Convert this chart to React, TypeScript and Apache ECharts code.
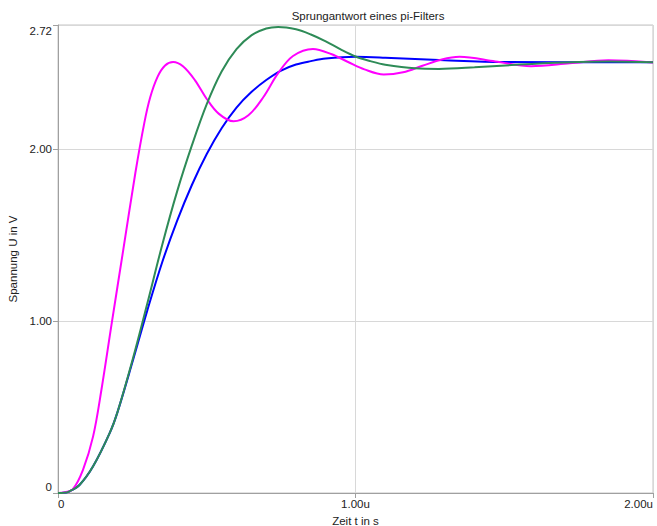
import React, { useEffect, useRef } from "react";
import * as echarts from "echarts";

const titleText = "Sprungantwort eines pi-Filters";
const xName = "Zeit t in s";
const yName = "Spannung U in V";

const yTickValues = [0, 1, 2, 2.72];
const xTickValues = [0, 1, 2];

// time in µs, voltage in V
const magentaT = [0, 0.02, 0.05, 0.084, 0.118, 0.146, 0.18, 0.22, 0.26, 0.29, 0.31, 0.335, 0.36, 0.387, 0.42, 0.46, 0.5, 0.54, 0.59, 0.64, 0.69, 0.74, 0.79, 0.857, 0.92, 0.975, 1.03, 1.095, 1.16, 1.225, 1.29, 1.35, 1.47, 1.59, 1.72, 1.85, 2.0];
const magentaU = [0, 0.003, 0.023, 0.135, 0.329, 0.6, 0.98, 1.42, 1.86, 2.15, 2.3, 2.42, 2.485, 2.505, 2.48, 2.4, 2.29, 2.205, 2.16, 2.195, 2.3, 2.44, 2.54, 2.581, 2.55, 2.505, 2.462, 2.432, 2.445, 2.483, 2.52, 2.535, 2.508, 2.48, 2.497, 2.515, 2.502];

const greenT = [0, 0.02, 0.039, 0.073, 0.118, 0.174, 0.2, 0.25, 0.3, 0.35, 0.4, 0.45, 0.5, 0.55, 0.6, 0.65, 0.7, 0.74, 0.8, 0.85, 0.9, 0.95, 1.0, 1.05, 1.1, 1.2, 1.28, 1.4, 1.55, 1.7, 1.85, 2.0];
const greenU = [0, 0.001, 0.01, 0.048, 0.155, 0.349, 0.47, 0.77, 1.1, 1.44, 1.75, 2.02, 2.26, 2.45, 2.58, 2.66, 2.7, 2.709, 2.695, 2.665, 2.625, 2.578, 2.537, 2.51, 2.489, 2.468, 2.465, 2.474, 2.49, 2.502, 2.508, 2.504];

const blueT = [0, 0.02, 0.039, 0.073, 0.118, 0.174, 0.2, 0.25, 0.3, 0.35, 0.4, 0.45, 0.5, 0.55, 0.6, 0.65, 0.7, 0.75, 0.8, 0.85, 0.9, 1.0, 1.1, 1.3, 1.5, 2.0];
const blueU = [0, 0.001, 0.01, 0.048, 0.155, 0.349, 0.47, 0.76, 1.06, 1.34, 1.58, 1.79, 1.97, 2.12, 2.24, 2.33, 2.4, 2.455, 2.49, 2.51, 2.525, 2.535, 2.53, 2.515, 2.505, 2.503];

const pairs = (t: number[], u: number[]) => t.map((v, i) => [v, u[i]]);

const FONT = "'Liberation Sans', Arial, sans-serif";

export default function App() {
  const ref = useRef<HTMLDivElement>(null);
  useEffect(() => {
    if (!ref.current) return;
    const chart = echarts.init(ref.current, undefined, { renderer: "svg" });
    const lbl = { fontSize: 11.5, color: "#222", fontFamily: FONT };
    chart.setOption({
      animation: false,
      backgroundColor: "#fff",
      title: {
        text: titleText,
        left: 363,
        top: 5,
        textAlign: "center",
        textStyle: { fontSize: 11.5, fontWeight: "normal", color: "#222", fontFamily: FONT },
      },
      grid: {
        left: 58,
        right: 4,
        top: 25,
        bottom: 33,
        containLabel: false,
        outerBoundsMode: "none",
        show: true,
        borderColor: "#c4c4c4",
        borderWidth: 1,
      },
      xAxis: {
        type: "value",
        min: 0,
        max: 2,
        interval: 1,
        name: xName,
        nameLocation: "middle",
        nameGap: 17,
        nameTextStyle: lbl,
        axisLine: { show: true, lineStyle: { color: "#a0a0a0", width: 1 } },
        axisTick: { show: true, inside: false, length: 5, lineStyle: { color: "#a0a0a0" } },
        splitLine: { show: true, lineStyle: { color: "#d8d8d8", width: 1 } },
        axisLabel: {
          ...lbl,
          margin: 5,
          customValues: xTickValues,
          alignMinLabel: "left",
          alignMaxLabel: "right",
          formatter: (v: number) => (v === 0 ? "0" : v.toFixed(2) + "u"),
        },
      },
      yAxis: {
        type: "value",
        min: 0,
        max: 2.72,
        interval: 1,
        name: yName,
        nameLocation: "middle",
        nameGap: 36,
        nameRotate: 90,
        nameTextStyle: lbl,
        axisLine: { show: true, lineStyle: { color: "#a0a0a0", width: 1 } },
        axisTick: { show: true, inside: false, length: 5, customValues: yTickValues, lineStyle: { color: "#a0a0a0" } },
        splitLine: { show: true, lineStyle: { color: "#d8d8d8", width: 1 } },
        axisLabel: {
          ...lbl,
          margin: 6,
          customValues: yTickValues,
          verticalAlignMinLabel: "bottom",
          verticalAlignMaxLabel: "top",
          formatter: (v: number) => (v === 0 ? "0" : v.toFixed(2)),
        },
      },
      series: [
        {
          type: "line",
          data: pairs(blueT, blueU),
          smooth: 0.35,
          showSymbol: false,
          lineStyle: { color: "#0000ff", width: 2 },
        },
        {
          type: "line",
          data: pairs(magentaT, magentaU),
          smooth: 0.35,
          showSymbol: false,
          lineStyle: { color: "#ff00ff", width: 2 },
        },
        {
          type: "line",
          data: pairs(greenT, greenU),
          smooth: 0.35,
          showSymbol: false,
          lineStyle: { color: "#2e8b57", width: 2 },
        },
      ],
    });
    return () => chart.dispose();
  }, []);
  return (
    <div
      ref={ref}
      style={{ position: "fixed", left: 0, top: 0, width: 657, height: 526 }}
    />
  );
}
